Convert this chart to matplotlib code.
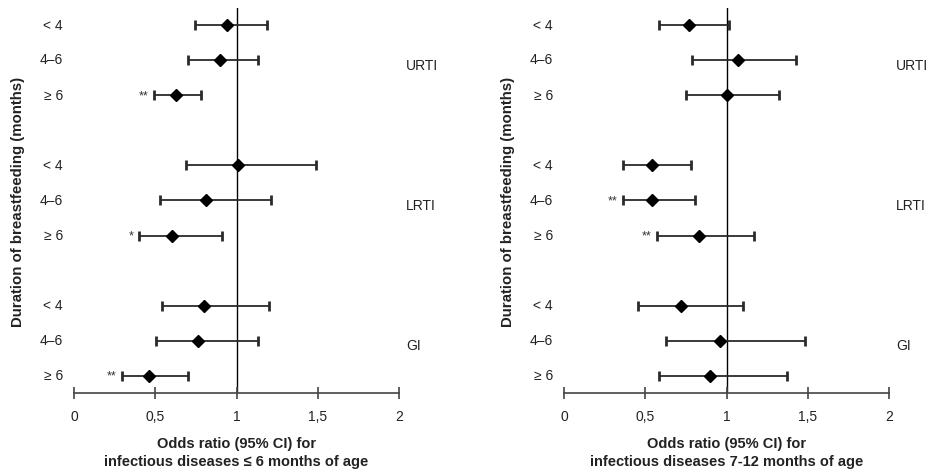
import numpy as np
import matplotlib
matplotlib.use("Agg")
import matplotlib.pyplot as plt

plt.rcParams["font.family"] = ["Liberation Sans", "DejaVu Sans"]

# rows: URTI (<4, 4-6, >=6), LRTI (...), GI (...)
row_labels = ["< 4", "4–6", "≥ 6"] * 3
groups = ["URTI", "LRTI", "GI"]
row_pos = [0, 1, 2, 4, 5, 6, 8, 9, 10]

# panel 1: infectious diseases <= 6 months of age
or_early = [0.94, 0.90, 0.63, 1.01, 0.81, 0.60, 0.80, 0.76, 0.46]
lo_early = [0.745, 0.70, 0.49, 0.69, 0.53, 0.40, 0.54, 0.505, 0.295]
hi_early = [1.19, 1.13, 0.78, 1.49, 1.21, 0.91, 1.20, 1.13, 0.70]
sig_early = ["", "", "**", "", "", "*", "", "", "**"]

# panel 2: infectious diseases 7-12 months of age
or_late = [0.77, 1.07, 1.00, 0.54, 0.54, 0.83, 0.72, 0.96, 0.90]
lo_late = [0.585, 0.79, 0.75, 0.365, 0.365, 0.57, 0.455, 0.625, 0.585]
hi_late = [1.015, 1.43, 1.32, 0.78, 0.805, 1.17, 1.10, 1.48, 1.375]
sig_late = ["", "", "", "", "**", "**", "", "", ""]

xticks = [0, 0.5, 1, 1.5, 2]
xtick_labels = ["0", "0,5", "1", "1,5", "2"]

W, H = 931, 473
fig = plt.figure(figsize=(W / 100, H / 100), dpi=100)


def forest(x0_px, orv, lo, hi, sig, xlabel):
    x1_px = x0_px + 325
    ax = fig.add_axes([x0_px / W, (H - 393) / H, (x1_px - x0_px) / W, 385 / H])
    ax.set_xlim(0, 2)
    ax.set_ylim(10.5, -0.5)
    orv, lo, hi = np.array(orv), np.array(lo), np.array(hi)
    ax.axvline(1, color="black", lw=1.0, zorder=1)
    ax.errorbar(orv, row_pos, xerr=[orv - lo, hi - orv], fmt="none",
                ecolor="#2a2a2a", elinewidth=1.3, capsize=3.5, capthick=2.0,
                zorder=2)
    ax.plot(orv, row_pos, "D", color="black", markersize=6, zorder=3)
    for y, l, s in zip(row_pos, lo, sig):
        if s:
            ax.annotate(s, (l, y), xytext=(-4, -1), textcoords="offset points",
                        ha="right", va="center", fontsize=9, color="#333333")
    for y, lab in zip(row_pos, row_labels):
        ax.annotate(lab, (0, y), xytext=(-8, 0), textcoords="offset points",
                    ha="right", va="center", fontsize=10, color="#222222",
                    annotation_clip=False)
    for i, g in enumerate(groups):
        ax.annotate(g, (2, row_pos[3 * i + 1]), xytext=(5, -4),
                    textcoords="offset points", ha="left", va="center",
                    fontsize=10, color="#222222", annotation_clip=False)
    for side in ["left", "right", "top"]:
        ax.spines[side].set_visible(False)
    ax.spines["bottom"].set_color("#444444")
    ax.spines["bottom"].set_linewidth(1.2)
    ax.set_yticks([])
    ax.set_xticks(xticks)
    ax.set_xticklabels(xtick_labels, fontsize=10, color="#222222")
    ax.tick_params(axis="x", direction="inout", length=8, width=1.2,
                   color="#444444", pad=8)
    cx = (x0_px + 162.5) / W
    fig.text(cx, (H - 453) / H, xlabel, ha="center", va="center",
             fontsize=10.5, fontweight="bold", color="#222222", linespacing=1.4)
    fig.text((x0_px - 56) / W, (H - 202) / H,
             "Duration of breastfeeding (months)", rotation=90,
             ha="center", va="center", fontsize=10.8, fontweight="bold",
             color="#222222")
    return ax


forest(74, or_early, lo_early, hi_early, sig_early,
       "Odds ratio (95% CI) for\ninfectious diseases ≤ 6 months of age")
forest(564, or_late, lo_late, hi_late, sig_late,
       "Odds ratio (95% CI) for\ninfectious diseases 7-12 months of age")

fig.savefig("out.png", dpi=100)
